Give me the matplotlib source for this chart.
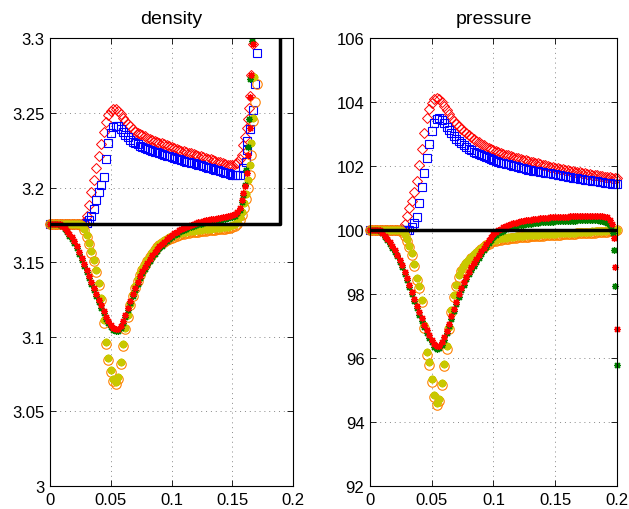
import numpy as np
import matplotlib
matplotlib.use('Agg')
import matplotlib.pyplot as plt

plt.rcParams['font.family'] = ['Liberation Sans', 'DejaVu Sans']

# ---------------- density panel (x step 0.002 from 0 to 0.156, then tails) ----------------
x_rho = np.round(np.arange(0, 0.1561, 0.002), 4)

rho_red_d = [3.1755] * 10 + [
    3.1755, 3.1755, 3.1755, 3.1758, 3.1772, 3.1810, 3.1885, 3.1970, 3.2050, 3.2130,
    3.2210, 3.2290, 3.2370, 3.2440, 3.2488, 3.2512, 3.2525, 3.2525, 3.2512, 3.2492,
    3.2470, 3.2448, 3.2428, 3.2410, 3.2392, 3.2375, 3.2367, 3.2359, 3.2351, 3.2343,
    3.2336, 3.2329, 3.2322, 3.2315, 3.2308, 3.2302, 3.2296, 3.2290, 3.2284, 3.2278,
    3.2272, 3.2266, 3.2260, 3.2254, 3.2249, 3.2244, 3.2239, 3.2234, 3.2229, 3.2224,
    3.2219, 3.2214, 3.2209, 3.2204, 3.2199, 3.2194, 3.2189, 3.2184, 3.2179, 3.2174,
    3.2169, 3.2164, 3.2159, 3.2155, 3.2152, 3.2151, 3.2156, 3.2168, 3.2195]
rho_red_d_tx = [0.1575, 0.1589, 0.1602, 0.1616, 0.1630, 0.1638, 0.1643, 0.1649, 0.1670]
rho_red_d_ty = [3.2222, 3.2283, 3.2337, 3.2402, 3.2457, 3.2535, 3.2615, 3.2753, 3.2960]

rho_blue = [3.1755] * 10 + [
    3.1755, 3.1755, 3.1755, 3.1755, 3.1755, 3.1765, 3.1780, 3.1810, 3.1860, 3.1920,
    3.1970, 3.2015, 3.2070, 3.2190, 3.2300, 3.2365, 3.2405, 3.2415, 3.2410, 3.2395,
    3.2375, 3.2355, 3.2338, 3.2322, 3.2307, 3.2298, 3.2290, 3.2282, 3.2275, 3.2268,
    3.2261, 3.2254, 3.2248, 3.2242, 3.2236, 3.2230, 3.2225, 3.2220, 3.2215, 3.2210,
    3.2205, 3.2200, 3.2195, 3.2190, 3.2185, 3.2180, 3.2175, 3.2170, 3.2166, 3.2162,
    3.2158, 3.2154, 3.2150, 3.2145, 3.2140, 3.2135, 3.2130, 3.2125, 3.2120, 3.2115,
    3.2110, 3.2105, 3.2100, 3.2095, 3.2090, 3.2086, 3.2084, 3.2084, 3.2087]
rho_blue_tx = [0.1589, 0.1610, 0.1617, 0.1623, 0.1643, 0.1670, 0.1684, 0.1698]
rho_blue_ty = [3.2130, 3.2174, 3.2250, 3.2315, 3.2392, 3.2523, 3.2696, 3.2903]

rho_orange = [3.1755] * 10 + [
    3.1755, 3.1755, 3.1755, 3.1745, 3.1715, 3.1670, 3.1620, 3.1565, 3.1505, 3.1435,
    3.1350, 3.1250, 3.1095, 3.0955, 3.0845, 3.0765, 3.0705, 3.0685, 3.0720, 3.0820,
    3.0940, 3.1050, 3.1135, 3.1210, 3.1275, 3.1330, 3.1375, 3.1415, 3.1450, 3.1480,
    3.1508, 3.1535, 3.1558, 3.1580, 3.1600, 3.1615, 3.1628, 3.1638, 3.1648, 3.1657,
    3.1665, 3.1672, 3.1678, 3.1683, 3.1687, 3.1691, 3.1694, 3.1697, 3.1700, 3.1702,
    3.1704, 3.1706, 3.1708, 3.1710, 3.1712, 3.1714, 3.1715, 3.1717, 3.1719, 3.1720,
    3.1722, 3.1724, 3.1726, 3.1729, 3.1732, 3.1737, 3.1745, 3.1758, 3.1782]
rho_orange_tx = [0.1580, 0.1595, 0.1610, 0.1625, 0.1640, 0.1655, 0.1670, 0.1685, 0.1698]
rho_orange_ty = [3.1815, 3.1865, 3.1925, 3.2000, 3.2087, 3.2220, 3.2445, 3.2575, 3.2696]

rho_yellow = [3.1755] * 10 + [
    3.1755, 3.1755, 3.1755, 3.1750, 3.1725, 3.1680, 3.1630, 3.1575, 3.1515, 3.1445,
    3.1360, 3.1260, 3.1110, 3.0965, 3.0855, 3.0775, 3.0715, 3.0695, 3.0730, 3.0830,
    3.0950, 3.1060, 3.1145, 3.1220, 3.1285, 3.1340, 3.1385, 3.1425, 3.1460, 3.1490,
    3.1518, 3.1545, 3.1568, 3.1590, 3.1610, 3.1625, 3.1638, 3.1648, 3.1658, 3.1667,
    3.1675, 3.1682, 3.1688, 3.1693, 3.1697, 3.1701, 3.1704, 3.1707, 3.1710, 3.1712,
    3.1714, 3.1716, 3.1718, 3.1720, 3.1722, 3.1724, 3.1725, 3.1727, 3.1729, 3.1730,
    3.1732, 3.1734, 3.1736, 3.1739, 3.1742, 3.1748, 3.1757, 3.1772, 3.1800]
rho_yellow_tx = [0.1580, 0.1595, 0.1610, 0.1625, 0.1640, 0.1655, 0.1665, 0.1680]
rho_yellow_ty = [3.1840, 3.1895, 3.1960, 3.2050, 3.2150, 3.2300, 3.2470, 3.2740]

rho_green = [
    3.1755, 3.1755, 3.1755, 3.1755, 3.1752, 3.1740, 3.1722, 3.1700, 3.1678, 3.1655,
    3.1630, 3.1595, 3.1555, 3.1515, 3.1475, 3.1435, 3.1395, 3.1355, 3.1315, 3.1275,
    3.1235, 3.1195, 3.1158, 3.1122, 3.1092, 3.1066, 3.1046, 3.1036, 3.1040, 3.1060,
    3.1092, 3.1132, 3.1177, 3.1225, 3.1272, 3.1317, 3.1357, 3.1392, 3.1425, 3.1455,
    3.1483, 3.1509, 3.1533, 3.1555, 3.1575, 3.1593, 3.1610, 3.1626, 3.1641, 3.1655,
    3.1668, 3.1680, 3.1691, 3.1701, 3.1710, 3.1718, 3.1726, 3.1733, 3.1739, 3.1745,
    3.1750, 3.1755, 3.1759, 3.1763, 3.1767, 3.1771, 3.1774, 3.1777, 3.1780, 3.1783,
    3.1786, 3.1789, 3.1792, 3.1796, 3.1800, 3.1805, 3.1813, 3.1827, 3.1852]
rho_green_tx = [0.1575, 0.1590, 0.1605, 0.1615, 0.1625, 0.1635, 0.1648, 0.1660]
rho_green_ty = [3.1905, 3.1950, 3.2020, 3.2120, 3.2272, 3.2457, 3.2730, 3.2980]

rho_red_s = [
    3.1755, 3.1755, 3.1755, 3.1755, 3.1755, 3.1745, 3.1730, 3.1710, 3.1690, 3.1668,
    3.1645, 3.1610, 3.1570, 3.1530, 3.1490, 3.1450, 3.1410, 3.1370, 3.1330, 3.1290,
    3.1250, 3.1210, 3.1170, 3.1135, 3.1105, 3.1080, 3.1060, 3.1050, 3.1055, 3.1075,
    3.1105, 3.1145, 3.1190, 3.1238, 3.1285, 3.1330, 3.1370, 3.1405, 3.1438, 3.1468,
    3.1496, 3.1522, 3.1546, 3.1568, 3.1588, 3.1606, 3.1623, 3.1639, 3.1654, 3.1668,
    3.1681, 3.1693, 3.1704, 3.1714, 3.1723, 3.1731, 3.1739, 3.1746, 3.1752, 3.1758,
    3.1763, 3.1768, 3.1772, 3.1776, 3.1780, 3.1784, 3.1787, 3.1790, 3.1793, 3.1796,
    3.1799, 3.1802, 3.1805, 3.1809, 3.1813, 3.1818, 3.1826, 3.1840, 3.1865]
rho_red_s_tx = [0.1575, 0.1590, 0.1600, 0.1616, 0.1630, 0.1643, 0.1648, 0.1655, 0.1670]
rho_red_s_ty = [3.1920, 3.1965, 3.2010, 3.2098, 3.2217, 3.2402, 3.2610, 3.2756, 3.2960]

rho_ref_x = [0, 0.189, 0.189]
rho_ref_y = [3.1755, 3.1755, 3.31]

# ---------------- pressure panel (x step 0.002 from 0 to 0.2) ----------------
x_p = np.round(np.arange(0, 0.2001, 0.002), 4)

p_red_d = [100.0] * 10 + [
    100.0, 100.0, 100.0, 100.05, 100.2, 100.45, 100.7, 100.92, 101.2, 101.55,
    102.05, 102.55, 103.05, 103.5, 103.8, 103.98, 104.1, 104.14, 104.1, 104.0,
    103.88, 103.76, 103.64, 103.52, 103.42, 103.33, 103.25, 103.17, 103.1, 103.03,
    102.97, 102.91, 102.85, 102.8, 102.75, 102.7, 102.66, 102.62, 102.58, 102.54,
    102.51, 102.48, 102.45, 102.42, 102.39, 102.36, 102.34, 102.31, 102.29, 102.27,
    102.25, 102.23, 102.21, 102.19, 102.17, 102.15, 102.13, 102.11, 102.09, 102.07,
    102.05, 102.03, 102.01, 101.99, 101.97, 101.95, 101.94, 101.92, 101.91, 101.89,
    101.88, 101.86, 101.85, 101.83, 101.82, 101.81, 101.79, 101.78, 101.77, 101.76,
    101.74, 101.73, 101.72, 101.71, 101.70, 101.68, 101.67, 101.66, 101.65, 101.63,
    101.62]

p_blue = [100.0] * 10 + [
    100.0, 100.0, 100.0, 100.0, 100.0, 100.0, 100.02, 100.1, 100.22, 100.4,
    100.85, 101.35, 101.8, 102.25, 102.7, 103.1, 103.35, 103.48, 103.5, 103.45,
    103.35, 103.24, 103.13, 103.03, 102.94, 102.86, 102.79, 102.72, 102.66, 102.6,
    102.55, 102.5, 102.46, 102.42, 102.38, 102.35, 102.32, 102.29, 102.26, 102.23,
    102.2, 102.17, 102.14, 102.12, 102.1, 102.08, 102.06, 102.04, 102.02, 102.0,
    101.98, 101.96, 101.94, 101.92, 101.9, 101.88, 101.86, 101.85, 101.84, 101.82,
    101.81, 101.8, 101.79, 101.78, 101.77, 101.75, 101.74, 101.72, 101.71, 101.69,
    101.68, 101.67, 101.65, 101.64, 101.62, 101.61, 101.6, 101.58, 101.57, 101.56,
    101.55, 101.54, 101.53, 101.52, 101.5, 101.49, 101.48, 101.47, 101.46, 101.45,
    101.44]

p_orange = [100.0] * 10 + [
    100.0, 100.0, 100.0, 99.95, 99.83, 99.67, 99.47, 99.24, 98.88, 98.45,
    98.2, 97.75, 96.95, 96.1, 95.8, 95.25, 94.78, 94.54, 94.65, 95.15,
    95.75, 96.3, 96.9, 97.45, 97.9, 98.25, 98.55, 98.72, 98.85, 98.95,
    99.04, 99.12, 99.2, 99.27, 99.34, 99.41, 99.47, 99.53, 99.58, 99.62,
    99.65, 99.67, 99.69, 99.71, 99.72, 99.73, 99.74, 99.75, 99.76, 99.77,
    99.78, 99.78, 99.79, 99.8, 99.8, 99.81, 99.81, 99.82, 99.82, 99.83,
    99.83, 99.84, 99.84, 99.84, 99.85, 99.85, 99.86, 99.86, 99.87, 99.87,
    99.88, 99.88, 99.89, 99.89, 99.9, 99.9, 99.91, 99.91, 99.92, 99.92,
    99.93, 99.93, 99.94, 99.94, 99.95, 99.95, 99.96, 99.97, 99.98, 99.99,
    100.0]

p_yellow = [100.0] * 10 + [
    100.0, 100.0, 100.0, 99.97, 99.88, 99.72, 99.52, 99.3, 98.95, 98.52,
    98.25, 97.83, 97.05, 96.2, 95.88, 95.35, 94.85, 94.6, 94.72, 95.22,
    95.83, 96.38, 96.98, 97.52, 97.96, 98.3, 98.6, 98.77, 98.9, 99.0,
    99.09, 99.17, 99.25, 99.32, 99.39, 99.46, 99.52, 99.58, 99.62, 99.66,
    99.69, 99.71, 99.73, 99.75, 99.76, 99.77, 99.78, 99.79, 99.8, 99.81,
    99.82, 99.82, 99.83, 99.84, 99.84, 99.85, 99.85, 99.86, 99.86, 99.87,
    99.87, 99.88, 99.88, 99.88, 99.89, 99.89, 99.9, 99.9, 99.91, 99.91,
    99.92, 99.92, 99.93, 99.93, 99.94, 99.94, 99.95, 99.95, 99.96, 99.96,
    99.97, 99.97, 99.98, 99.98, 99.99, 99.99, 100.0, 100.0, 100.0, 100.0,
    100.0]

p_green = [
    100.0, 100.0, 100.0, 100.0, 99.98, 99.9, 99.8, 99.69, 99.58, 99.46,
    99.33, 99.18, 99.02, 98.84, 98.64, 98.44, 98.23, 98.01, 97.79, 97.57,
    97.36, 97.16, 96.97, 96.8, 96.64, 96.49, 96.36, 96.29, 96.31, 96.42,
    96.58, 96.78, 97.0, 97.23, 97.46, 97.69, 97.92, 98.12, 98.3, 98.47,
    98.62, 98.76, 98.89, 99.02, 99.14, 99.26, 99.38, 99.49, 99.6, 99.7,
    99.78, 99.85, 99.9, 99.95, 99.99, 100.03, 100.06, 100.09, 100.11, 100.13,
    100.15, 100.17, 100.18, 100.19, 100.2, 100.21, 100.22, 100.23, 100.24, 100.25,
    100.25, 100.26, 100.26, 100.27, 100.27, 100.28, 100.28, 100.29, 100.29, 100.29,
    100.3, 100.3, 100.3, 100.3, 100.31, 100.31, 100.31, 100.31, 100.31, 100.31,
    100.31, 100.31, 100.31, 100.3, 100.29, 100.27, 100.24]
p_green_tx = [0.194, 0.1955, 0.197, 0.1975, 0.1985, 0.200]
p_green_ty = [100.17, 100.05, 99.9, 99.39, 98.25, 95.79]

p_red_s = [
    100.0, 100.0, 100.0, 100.0, 100.0, 99.93, 99.83, 99.73, 99.62, 99.51,
    99.38, 99.24, 99.08, 98.9, 98.7, 98.51, 98.3, 98.08, 97.86, 97.64,
    97.43, 97.24, 97.05, 96.88, 96.72, 96.57, 96.44, 96.37, 96.39, 96.5,
    96.66, 96.86, 97.08, 97.31, 97.54, 97.77, 98.0, 98.2, 98.38, 98.55,
    98.7, 98.84, 98.97, 99.1, 99.22, 99.34, 99.46, 99.58, 99.7, 99.8,
    99.88, 99.95, 100.0, 100.05, 100.09, 100.13, 100.16, 100.19, 100.22, 100.24,
    100.26, 100.28, 100.3, 100.31, 100.32, 100.33, 100.34, 100.35, 100.36, 100.37,
    100.38, 100.38, 100.39, 100.4, 100.4, 100.41, 100.41, 100.42, 100.42, 100.43,
    100.43, 100.44, 100.44, 100.44, 100.45, 100.45, 100.45, 100.46, 100.46, 100.46,
    100.46, 100.46, 100.46, 100.46, 100.45, 100.43, 100.4, 100.33]
p_red_s_tx = [0.196, 0.1975, 0.1985, 0.200]
p_red_s_ty = [100.2, 99.75, 98.86, 96.91]

p_ref_x = [0, 0.2]
p_ref_y = [100, 100]

ORANGE = '#ff8000'
YELLOW = '#c8c800'
GREEN = '#008000'
ASTER = (8, 2, 0)


def join(x, y, *extra):
    # main grid samples followed by any extra (x, y) samples
    xs = list(x[:len(y)])
    ys = list(y)
    for ex, ey in extra:
        xs += list(ex)
        ys += list(ey)
    return xs, ys


def draw(ax, red_d, blue, orange, yellow, green, red_s, ref):
    kw = dict(linestyle='none', clip_on=False)
    ax.plot(*red_d, marker='D', ms=4.8, mfc='none', mec='red', mew=0.7, **kw)
    ax.plot(*blue, marker='s', ms=6.3, mfc='none', mec='blue', mew=0.8, **kw)
    ax.plot(*orange, marker='o', ms=6.8, mfc='none', mec=ORANGE, mew=0.8, **kw)
    ax.plot(*yellow, marker=ASTER, ms=5.5, color=YELLOW, mew=1.6, **kw)
    ax.plot(*green, marker=ASTER, ms=5, color=GREEN, mew=0.9, **kw)
    ax.plot(*red_s, marker=ASTER, ms=5, color='red', mew=0.9, **kw)
    ax.plot(ref[0], ref[1], color='black', lw=2.5, solid_capstyle='butt')


fig = plt.figure(figsize=(6.29, 5.10), dpi=100)
ax1 = fig.add_axes([0.0795, 0.0451, 0.3868, 0.8775])
ax2 = fig.add_axes([0.5882, 0.0451, 0.3927, 0.8775])

draw(ax1,
     join(x_rho, rho_red_d, (rho_red_d_tx, rho_red_d_ty)),
     join(x_rho, rho_blue, (rho_blue_tx, rho_blue_ty)),
     join(x_rho, rho_orange, (rho_orange_tx, rho_orange_ty)),
     join(x_rho, rho_yellow, (rho_yellow_tx, rho_yellow_ty)),
     join(x_rho, rho_green, (rho_green_tx, rho_green_ty)),
     join(x_rho, rho_red_s, (rho_red_s_tx, rho_red_s_ty)),
     (rho_ref_x, rho_ref_y))
draw(ax2,
     join(x_p, p_red_d),
     join(x_p, p_blue),
     join(x_p, p_orange),
     join(x_p, p_yellow),
     join(x_p, p_green, (p_green_tx, p_green_ty)),
     join(x_p, p_red_s, (p_red_s_tx, p_red_s_ty)),
     (p_ref_x, p_ref_y))

xt = [0, 0.05, 0.1, 0.15, 0.2]
xtl = ['0', '0.05', '0.1', '0.15', '0.2']
ax1.set_xlim(0, 0.2)
ax1.set_ylim(3.0, 3.3)
ax1.set_yticks([3.0, 3.05, 3.1, 3.15, 3.2, 3.25, 3.3])
ax1.set_yticklabels(['3', '3.05', '3.1', '3.15', '3.2', '3.25', '3.3'])
ax1.set_title('density', fontsize=14, pad=11)
ax2.set_xlim(0, 0.2)
ax2.set_ylim(92, 106)
ax2.set_yticks([92, 94, 96, 98, 100, 102, 104, 106])
ax2.set_yticklabels(['92', '94', '96', '98', '100', '102', '104', '106'])
ax2.set_title('pressure', fontsize=14, pad=11)

for ax in (ax1, ax2):
    ax.set_xticks(xt)
    ax.set_xticklabels(xtl)
    ax.grid(True, linestyle=(0, (1, 4)), color='#888888', lw=0.7)
    ax.set_axisbelow(True)
    ax.tick_params(direction='in', top=True, right=True, length=4, width=0.6,
                   labelsize=12, pad=4)
    for s in ax.spines.values():
        s.set_linewidth(0.8)

fig.savefig('out.png', dpi=100)
